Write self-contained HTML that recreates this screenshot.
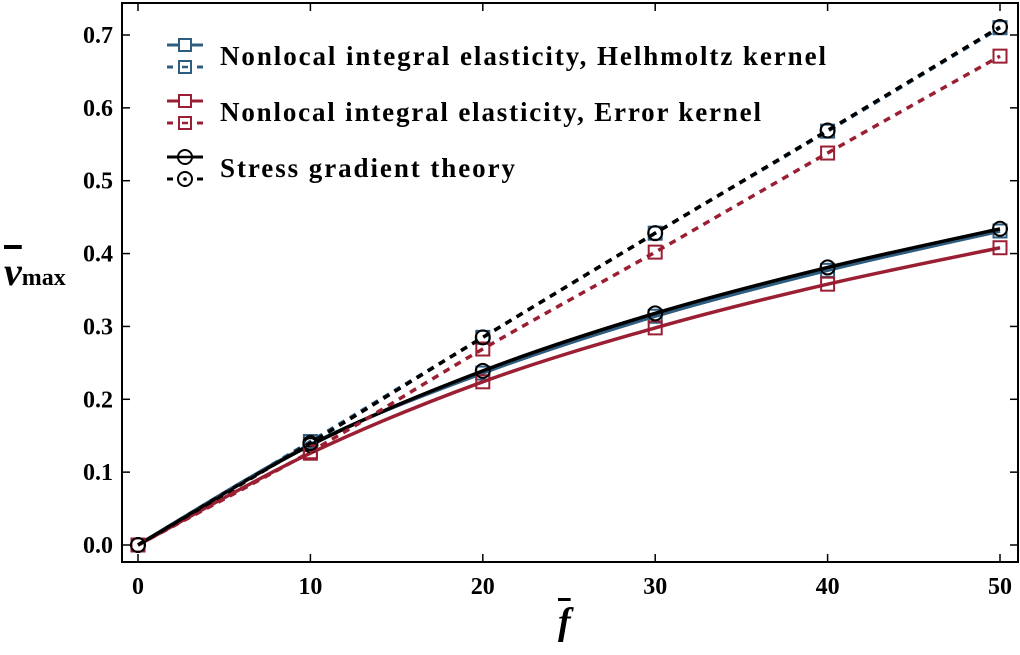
<!DOCTYPE html>
<html><head><meta charset="utf-8"><style>
body{margin:0;background:#fff;}
svg text{font-family:"Liberation Serif",serif;font-weight:bold;}
</style></head><body>
<svg id="chart" width="1020" height="650" xmlns="http://www.w3.org/2000/svg">
<g id="plot"></g>
</svg>
<script>
const categories=[0,10,20,30,40,50];
const helmLocal=[0,0.142,0.285,0.428,0.568,0.710];
const errLocal=[0,0.128,0.269,0.402,0.538,0.671];
const sgtLocal=[0,0.140,0.285,0.428,0.569,0.711];
const helmNon=[0,0.138,0.236,0.314,0.377,0.431];
const errNon=[0,0.126,0.224,0.298,0.358,0.408];
const sgtNon=[0,0.137,0.239,0.318,0.381,0.434];
const xTicks=[0,10,20,30,40,50];
const yTicks=[0,0.1,0.2,0.3,0.4,0.5,0.6,0.7];
const NS="http://www.w3.org/2000/svg";
const X0=122,X1=1018,Y0=3,Y1=562;
const xs=v=>138+v*(1000-138)/50;
const ys=v=>545-v*(545-35)/0.7;
const g=document.getElementById('plot');
function mk(t,a,p){const e=document.createElementNS(NS,t);for(const k in a)e.setAttribute(k,a[k]);(p||g).appendChild(e);return e;}
const frame=mk('rect',{x:X0,y:Y0,width:X1-X0,height:Y1-Y0,fill:'none',stroke:'#000','stroke-width':2});


xTicks.forEach(t=>{
  const x=xs(t);
  mk('line',{x1:x,x2:x,y1:Y1,y2:Y1-8,stroke:'#000','stroke-width':1.5});
  mk('line',{x1:x,x2:x,y1:Y0,y2:Y0+8,stroke:'#000','stroke-width':1.5});
  const tx=mk('text',{x:x,y:594,'text-anchor':'middle','font-size':24});
  tx.textContent=t;
  
  
});
yTicks.forEach(t=>{
  const y=ys(t);
  mk('line',{x1:X0,x2:X0+8,y1:y,y2:y,stroke:'#000','stroke-width':1.5});
  mk('line',{x1:X1,x2:X1-8,y1:y,y2:y,stroke:'#000','stroke-width':1.5});
  const tx=mk('text',{x:113,y:y+8,'text-anchor':'end','font-size':24});
  tx.textContent=t.toFixed(1);
  
  
});
function smooth(vals){
  const p=categories.map((c,i)=>[xs(c),ys(vals[i])]);
  let d=`M${p[0][0]},${p[0][1]}`;
  for(let i=0;i<p.length-1;i++){
    const p0=p[i-1]||p[i],p1=p[i],p2=p[i+1],p3=p[i+2]||p[i+1];
    d+=` C${p1[0]+(p2[0]-p0[0])/6},${p1[1]+(p2[1]-p0[1])/6} ${p2[0]-(p3[0]-p1[0])/6},${p2[1]-(p3[1]-p1[1])/6} ${p2[0]},${p2[1]}`;
  }
  return d;
}
function series(vals,color,dash,marker,name){
  const path=mk('path',{d:smooth(vals),fill:'none',stroke:color,'stroke-width':3.5,'stroke-dasharray':dash?'7,6':'none'});
  
  
  categories.forEach((c,i)=>{
    const x=xs(c),y=ys(vals[i]);
    let m;
    if(marker==='sq') m=mk('rect',{x:x-6.5,y:y-6.5,width:13,height:13,fill:'none',stroke:color,'stroke-width':2});
    else m=mk('circle',{cx:x,cy:y,r:7,fill:'none',stroke:color,'stroke-width':2});
    
    
  });
}
const BLUE='#2f5d80',RED='#9a1f33';
series(helmNon,BLUE,false,'sq','helmholtz-nonlocal');
series(errNon,RED,false,'sq','error-nonlocal');
series(sgtNon,'#000',false,'ci','sgt-nonlocal');
series(helmLocal,BLUE,true,'sq','helmholtz-local');
series(errLocal,RED,true,'sq','error-local');
series(sgtLocal,'#000',true,'ci','sgt-local');
const legend=[['Nonlocal integral elasticity, Helhmoltz kernel',BLUE,'sq',56,606],['Nonlocal integral elasticity, Error kernel',RED,'sq',112,541],['Stress gradient theory','#000','ci',168,295]];
legend.forEach(([lab,col,mkType,yc,w])=>{
  const lg=mk('g',{});
  
  
  [[-11,false],[11,true]].forEach(([dy,dash])=>{
    const y=yc+dy;
    if(dash){mk('line',{x1:167,x2:173,y1:y,y2:y,stroke:col,'stroke-width':3},lg);mk('line',{x1:197,x2:203,y1:y,y2:y,stroke:col,'stroke-width':3},lg);}
    else mk('line',{x1:167,x2:203,y1:y,y2:y,stroke:col,'stroke-width':3},lg);
    if(mkType==='sq'){mk('rect',{x:179,y:y-6,width:12,height:12,fill:'#fff',stroke:col,'stroke-width':2},lg);
      if(dash) mk('line',{x1:182,x2:188,y1:y,y2:y,stroke:col,'stroke-width':2.5},lg);}
    else{mk('circle',{cx:185,cy:y,r:7,fill:'#fff',stroke:col,'stroke-width':2},lg);
      if(dash) mk('circle',{cx:185,cy:y,r:1.8,fill:col},lg); else mk('line',{x1:178,x2:192,y1:y,y2:y,stroke:col,'stroke-width':2.5},lg);}
  });
  const t=mk('text',{x:220,y:yc+9,'font-size':27,textLength:w,lengthAdjust:'spacing'},lg);
  t.textContent=lab;
});
</script>
<div style="position:absolute;left:0;top:0;width:1020px;height:650px;pointer-events:none">
<div style="position:absolute;left:4px;top:248px;font-family:'Liberation Serif',serif;font-weight:bold;font-size:40px;font-style:italic;"><span style="text-decoration:overline">v</span><span style="font-style:normal;font-size:24px">max</span></div>
<div style="position:absolute;left:558px;top:600px;font-family:'Liberation Serif',serif;font-weight:bold;font-size:38px;font-style:italic;text-decoration:overline">f</div>
</div>
</body></html>
